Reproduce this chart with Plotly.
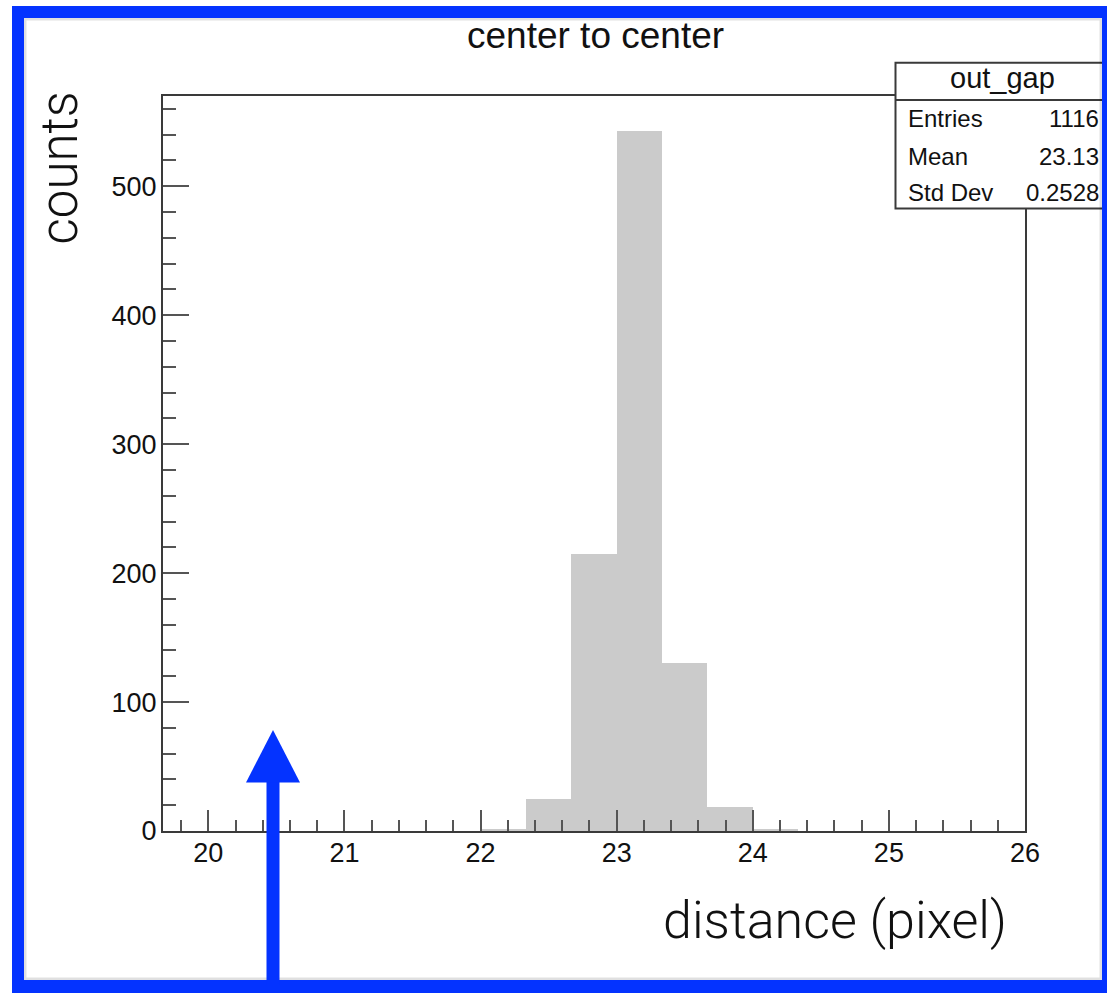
import plotly.graph_objects as go

# ---- data ----
bin_low = [22.0, 22.3333, 22.6667, 23.0, 23.3333, 23.6667, 24.0]
bin_width = 1.0 / 3.0
counts = [1, 25, 215, 543, 130, 19, 1]
x_range = [19.6667, 26.0]
y_range = [0, 570]
x_ticks = [20, 21, 22, 23, 24, 25, 26]
y_ticks = [0, 100, 200, 300, 400, 500]
stat_title = "out_gap"
stat_labels = ["Entries", "Mean", "Std Dev"]
stat_values = ["1116", "23.13", "0.2528"]

centers = [b + bin_width / 2 for b in bin_low]

# ---- geometry (pixels) ----
FW, FH = 1107, 993
L, T, R, B = 163, 96, 82, 162
W = FW - L - R
H = FH - T - B


def px(x):
    return (x - L) / W


def py(y):
    return (T + H - y) / H


BLUE = "#0433ff"
AX = "#3a3a3a"

fig = go.Figure()
fig.add_trace(go.Bar(
    x=centers, y=counts, width=[bin_width] * len(counts),
    marker=dict(color="#cbcbcb", line=dict(width=0)),
    showlegend=False, hoverinfo="x+y",
))

tickfont = dict(family="Liberation Sans, Arial, sans-serif", size=27, color="#111")

fig.update_xaxes(
    range=x_range, tickvals=x_ticks, ticktext=[str(v) for v in x_ticks],
    ticks="inside", ticklen=21, tickwidth=2, tickcolor="#555",
    minor=dict(dtick=0.2, tick0=20, ticks="inside", ticklen=11, tickwidth=2, tickcolor="#555", showgrid=False),
    showline=True, linecolor=AX, linewidth=2, mirror=True,
    showgrid=False, zeroline=False, tickfont=tickfont, ticklabelstandoff=-3,
)
fig.update_yaxes(
    range=y_range, tickvals=y_ticks, ticktext=[str(v) for v in y_ticks],
    ticks="inside", ticklen=26, tickwidth=2, tickcolor="#555",
    minor=dict(dtick=20, tick0=0, ticks="inside", ticklen=13, tickwidth=2, tickcolor="#555", showgrid=False),
    showline=True, linecolor=AX, linewidth=2, mirror=True,
    showgrid=False, zeroline=False, tickfont=tickfont, ticklabelstandoff=-1,
)

shapes = []
# stats box
shapes.append(dict(type="rect", xref="paper", yref="paper",
                   x0=px(895.5), x1=px(1112), y0=py(208.5), y1=py(62.7),
                   fillcolor="white", line=dict(color=AX, width=2), layer="above"))
shapes.append(dict(type="line", xref="paper", yref="paper",
                   x0=px(895.5), x1=px(1112), y0=py(100), y1=py(100),
                   line=dict(color=AX, width=2), layer="above"))
# inner shadow of the framed screenshot
shapes.append(dict(type="rect", xref="paper", yref="paper",
                   x0=px(25), x1=px(1101), y0=py(979), y1=py(19),
                   fillcolor="rgba(0,0,0,0)", line=dict(color="rgba(0,0,0,0.12)", width=3), layer="above"))
# blue border bands
for (x0, x1, y0, y1) in [(12, 1107, 6, 18), (12, 24, 6, 993), (12, 1107, 980, 993), (1102, 1107, 6, 993)]:
    shapes.append(dict(type="rect", xref="paper", yref="paper",
                       x0=px(x0), x1=px(x1), y0=py(y1), y1=py(y0),
                       fillcolor=BLUE, line=dict(width=0), layer="above"))
# blue arrow
shapes.append(dict(type="rect", xref="paper", yref="paper",
                   x0=px(266.5), x1=px(279.5), y0=py(985), y1=py(781),
                   fillcolor=BLUE, line=dict(width=0), layer="above"))
path = "M {} {} L {} {} L {} {} Z".format(px(246), py(782.5), px(300), py(782.5), px(273), py(730))
shapes.append(dict(type="path", xref="paper", yref="paper", path=path,
                   fillcolor=BLUE, line=dict(width=0), layer="above"))

annotations = []
annotations.append(dict(text="center to center", xref="paper", yref="paper",
                        x=px(595), y=py(35), xanchor="center", yanchor="middle", showarrow=False,
                        font=dict(family="Liberation Sans, Arial, sans-serif", size=37, color="#111")))
annotations.append(dict(text="distance (pixel)", xref="paper", yref="paper",
                        x=px(835), y=py(921), xanchor="center", yanchor="middle", showarrow=False,
                        font=dict(family="Roboto, Liberation Sans, sans-serif", size=52, color="#111", weight=300)))
annotations.append(dict(text="counts", xref="paper", yref="paper", textangle=-90,
                        x=px(59), y=py(168.5), xanchor="center", yanchor="middle", showarrow=False,
                        font=dict(family="Roboto, Liberation Sans, sans-serif", size=51, color="#111", weight=300)))
annotations.append(dict(text=stat_title, xref="paper", yref="paper",
                        x=px(1002), y=py(78), xanchor="center", yanchor="middle", showarrow=False,
                        font=dict(family="Liberation Sans, Arial, sans-serif", size=29, color="#111")))
row_y = [119, 156, 192]
for lab, val, yy in zip(stat_labels, stat_values, row_y):
    annotations.append(dict(text=lab, xref="paper", yref="paper", x=px(906), y=py(yy),
                            xanchor="left", yanchor="middle", showarrow=False,
                            font=dict(family="Liberation Sans, Arial, sans-serif", size=24, color="#111")))
    annotations.append(dict(text=val, xref="paper", yref="paper", x=px(1101), y=py(yy),
                            xanchor="right", yanchor="middle", showarrow=False,
                            font=dict(family="Liberation Sans, Arial, sans-serif", size=24, color="#111")))

fig.update_layout(
    width=FW, height=FH, autosize=False,
    margin=dict(l=L, r=R, t=T, b=B, pad=0),
    paper_bgcolor="white", plot_bgcolor="white",
    shapes=shapes, annotations=annotations,
    bargap=0, showlegend=False,
)

fig.write_html("out.html", include_plotlyjs=True, full_html=True,
               config={"displayModeBar": False},
               post_script="document.body.style.margin='0';")
